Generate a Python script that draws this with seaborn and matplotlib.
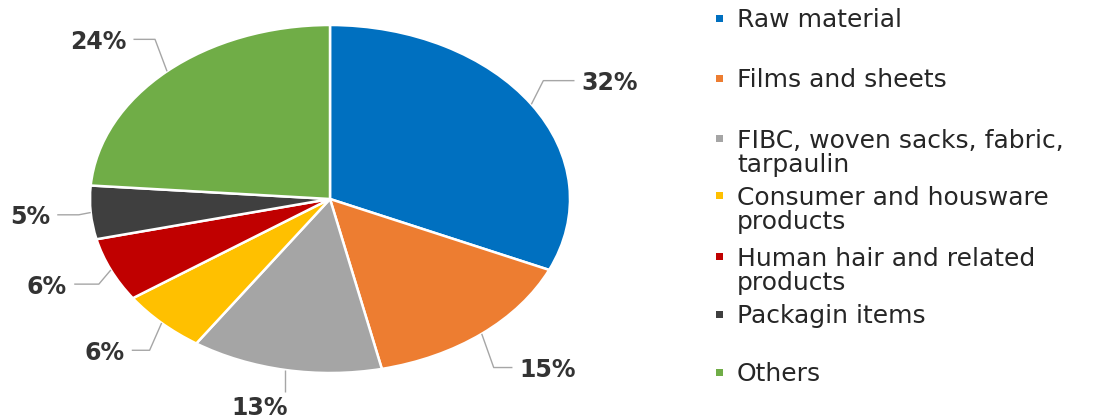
import numpy as np
import matplotlib
matplotlib.use("Agg")
import matplotlib.pyplot as plt
from matplotlib.patches import Rectangle
import seaborn as sns

# ---- data ----
categories = [
    "Raw material",
    "Films and sheets",
    "FIBC, woven sacks, fabric,\ntarpaulin",
    "Consumer and housware\nproducts",
    "Human hair and related\nproducts",
    "Packagin items",
    "Others",
]
shares = [32, 15, 13, 6, 6, 5, 24]
pct_labels = ["32%", "15%", "13%", "6%", "6%", "5%", "24%"]

# ---- style ----
colors = ["#0070C0", "#ED7D31", "#A5A5A5", "#FFC000", "#C00000", "#3F3F3F", "#70AD47"]
label_radius = [1.25, 1.25, 1.2, 1.22, 1.2, 1.17, 1.25]
legend_baselines_px = [27, 87, 147, 204, 265, 323, 381]
line_step_px = 25

sns.set_theme(style="white")
plt.rcParams["font.family"] = ["DejaVu Sans"]

W, H = 1113, 419
fig = plt.figure(figsize=(W / 100, H / 100), dpi=100)
fig.patch.set_facecolor("white")
ax = fig.add_axes([0, 0, 1, 1])

cx, cy, rx, ry = 330, 199, 240, 174
wedges, _ = ax.pie(
    shares,
    colors=colors,
    startangle=90,
    counterclock=False,
    wedgeprops=dict(edgecolor="white", linewidth=1.8),
)
ax.set_aspect("auto")
ax.set_xlim(-cx / rx, (W - cx) / rx)
ax.set_ylim(-(H - cy) / ry, cy / ry)
ax.axis("off")

line_kw = dict(color="#A6A6A6", lw=1.0, solid_capstyle="butt")
txt_kw = dict(fontsize=17, fontweight="bold", color="#333333")
for w, lab, r in zip(wedges, pct_labels, label_radius):
    mid = np.deg2rad((w.theta1 + w.theta2) / 2)
    ex, ey = np.cos(mid), np.sin(mid)
    if abs(ex) < 0.3:
        ly = ey * r
        ax.plot([ex, ex], [ey, ly + 0.07], **line_kw)
        ax.text(ex + 0.01, ly - 0.02, lab, ha="right", va="center", **txt_kw)
    else:
        lx, ly = ex * r, ey * r
        s = np.sign(ex)
        end_x = lx - s * 0.03
        elbow_x = ex + s * 0.05
        ax.plot([ex, elbow_x, end_x], [ey, ly, ly], **line_kw)
        ax.text(lx, ly, lab, ha="left" if s > 0 else "right",
                va="center_baseline", **txt_kw)

# ---- legend (manual, Excel-like) ----
for cat, col, yb in zip(categories, colors, legend_baselines_px):
    n_extra = cat.count("\n")
    y_last = yb + n_extra * line_step_px
    fig.text(737 / W, 1 - y_last / H, cat, ha="left", va="baseline",
             fontsize=18, color="#262626", linespacing=1.0)
    fig.add_artist(Rectangle((716 / W, 1 - (yb - 5) / H), 7 / W, 7 / H,
                             transform=fig.transFigure, facecolor=col,
                             edgecolor="none"))

fig.savefig("out.png", dpi=100, facecolor="white")
